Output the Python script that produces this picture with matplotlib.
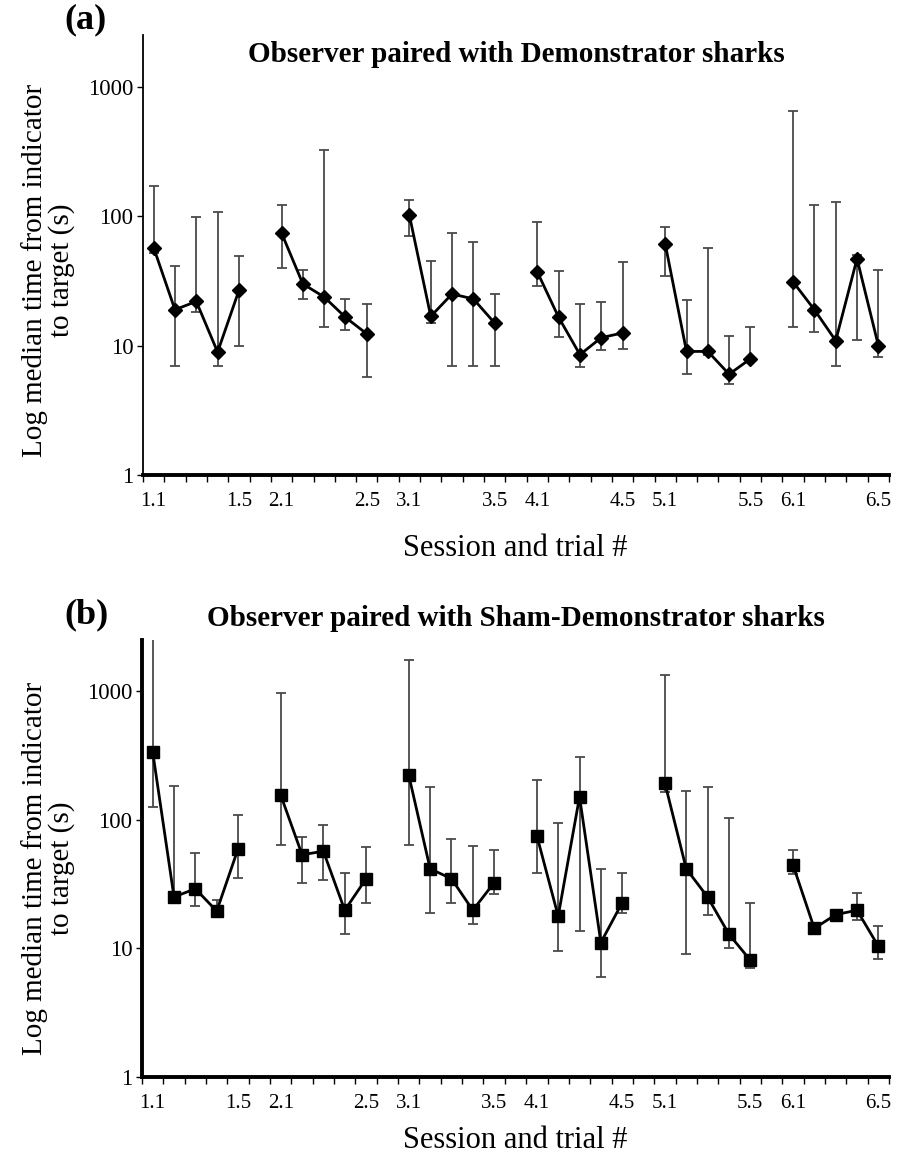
import numpy as np
import matplotlib
matplotlib.use("Agg")
import matplotlib.pyplot as plt

# ---------------- data ----------------
sessions = [1, 2, 3, 4, 5, 6]
trials = [1, 2, 3, 4, 5]
xtick_labels = ["1.1", "1.5", "2.1", "2.5", "3.1", "3.5", "4.1", "4.5", "5.1", "5.5", "6.1", "6.5"]

# Panel (a): Observer paired with Demonstrator sharks (median, lower, upper)
med_a = [[57, 18.9, 21.9, 8.9, 26.6],
         [74, 29.9, 23.7, 16.5, 12.3],
         [101, 16.8, 25, 22.9, 14.9],
         [37, 16.5, 8.5, 11.5, 12.5],
         [61, 9.0, 9.0, 6.0, 7.9],
         [31, 18.9, 10.9, 46.8, 10]]
lo_a = [[52, 7.0, 18.1, 7.0, 10],
        [39.7, 23, 13.9, 13.2, 5.7],
        [70.5, 14.9, 7.0, 7.0, 7.0],
        [29, 11.7, 6.8, 9.3, 9.4],
        [34.6, 6.0, 8.5, 5.0, 7.6],
        [13.9, 12.8, 7.0, 11.1, 8.1]]
hi_a = [[172, 41.3, 98.4, 107, 49.4],
        [121, 38.5, 326, 22.9, 20.9],
        [134, 44.7, 74, 62.7, 25],
        [90, 37.3, 20.9, 21.7, 44],
        [81.9, 22.5, 56.6, 11.9, 14],
        [646, 121, 128.5, 50, 38.5]]

# Panel (b): Observer paired with Sham-Demonstrator sharks
med_b = [[338, 25.1, 29.1, 19.5, 59.4],
         [155.6, 53.5, 56.9, 19.8, 34.8],
         [222, 41.6, 34.8, 19.8, 32.4],
         [75.3, 17.8, 151, 11.1, 22.7],
         [193, 41.6, 25.1, 12.9, 8.1],
         [44.7, 14.3, 18.3, 19.8, 10.4]]
lo_b = [[126, 24, 21.2, 18.5, 35.5],
        [63.8, 32.4, 33.8, 12.9, 22.7],
        [63.8, 19, 22.7, 15.4, 26.7],
        [38.7, 9.5, 13.7, 6.0, 18.7],
        [163, 9.0, 18.3, 10, 7.0],
        [37.6, np.nan, np.nan, 16.6, 8.3]]
hi_b = [[3000, 184, 55.3, 23.7, 109],
        [968, 73, 91.6, 38.7, 61],
        [1760, 180, 71, 62, 57.7],
        [204, 94.4, 308, 41.1, 38.7],
        [1327, 168, 181, 104, 22.7],
        [58.7, np.nan, np.nan, 26.9, 14.9]]

# ---------------- figure ----------------
plt.rcParams['font.family'] = ['Liberation Serif', 'DejaVu Serif']
W, H = 901, 1159
fig = plt.figure(figsize=(W / 100, H / 100), dpi=100)


def px_axes(left, right, top, bottom):
    return [left / W, 1 - bottom / H, (right - left) / W, (bottom - top) / H]


def draw_panel(ax, med, lo, hi, marker, msize, title, title_y, left_lw):
    gap = 6
    for si, s in enumerate(sessions):
        x = np.array([(s - 1) * gap + (t - 1) + 0.5 for t in trials])
        m = np.array(med[si], dtype=float)
        l = np.array(lo[si], dtype=float)
        h = np.array(hi[si], dtype=float)
        ok = ~np.isnan(l)
        ax.errorbar(x[ok], m[ok], yerr=[m[ok] - l[ok], h[ok] - m[ok]], fmt='none',
                    ecolor='#4a4a4a', elinewidth=1.3, capsize=3.5, capthick=1.3, zorder=2)
        ax.plot(x, m, color='black', lw=2.0, marker=marker, ms=msize, zorder=3)
    ax.set_yscale('log')
    ax.set_ylim(1, 2500)
    ax.set_xlim(0, 35)
    ax.set_yticks([1, 10, 100, 1000])
    ax.set_yticklabels(['1', '10', '100', '1000'])
    ax.yaxis.set_minor_locator(matplotlib.ticker.NullLocator())
    ax.set_xticks(np.arange(0, 36))
    ax.set_xticklabels([])
    lab_pos = []
    for s in sessions:
        lab_pos += [(s - 1) * gap + 0.5, (s - 1) * gap + 4.5]
    ax.set_xticks(lab_pos, minor=True)
    ax.set_xticklabels(xtick_labels, minor=True)
    ax.tick_params(axis='x', which='major', length=5, width=1.0, direction='out')
    ax.tick_params(axis='x', which='minor', length=0, pad=12, labelsize=15)
    ax.tick_params(axis='y', which='major', length=4, width=1.0, labelsize=16.5, pad=3)
    for sp in ['top', 'right']:
        ax.spines[sp].set_visible(False)
    ax.spines['bottom'].set_linewidth(2.8)
    ax.spines['left'].set_linewidth(left_lw)
    ax.text(0.5, title_y, title, transform=ax.transAxes, ha='center', va='center',
            fontsize=21, fontweight='bold')


ax_a = fig.add_axes(px_axes(143, 889, 35, 475))
draw_panel(ax_a, med_a, lo_a, hi_a, 'D', 7,
           'Observer paired with Demonstrator sharks', 0.955, 1.3)
ax_b = fig.add_axes(px_axes(142, 889, 640, 1077))
draw_panel(ax_b, med_b, lo_b, hi_b, 's', 8,
           'Observer paired with Sham-Demonstrator sharks', 1.05, 2.8)

ylab = 'Log median time from indicator\nto target (s)'
xlab = 'Session and trial #'
for yc in (270, 868):
    fig.text(48 / W, 1 - yc / H, ylab, rotation=90, ha='center', va='center',
             fontsize=21, linespacing=1.0, multialignment='center')
for yc in (548, 1140):
    fig.text(515 / W, 1 - yc / H, xlab, ha='center', va='center', fontsize=22)

fig.text(86 / W, 1 - 20 / H, '(a)', ha='center', va='center', fontsize=26, fontweight='bold')
fig.text(86 / W, 1 - 615 / H, '(b)', ha='center', va='center', fontsize=26, fontweight='bold')

fig.savefig('out.png', dpi=100)
